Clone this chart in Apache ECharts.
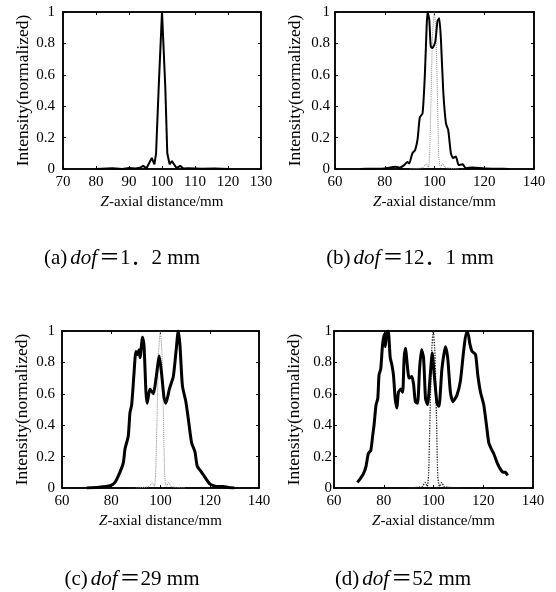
<!DOCTYPE html>
<html>
<head>
<meta charset="utf-8">
<script src="https://cdn.jsdelivr.net/npm/echarts@6/dist/echarts.min.js"></script>
<style>
html,body{margin:0;padding:0;background:#fff;}
#c{width:556px;height:592px;}
</style>
</head>
<body>
<div id="c"></div>
<script>
// ---- data ----
// (a) dof = 1.2 mm
const aX = [80, 85, 88, 90, 92, 93.3, 94.3, 95.3, 96.9, 97.7, 98.2, 99.0, 100.0, 101.0, 101.6, 102.3, 103.0, 103.6, 104.4, 105.5, 106.5, 108, 112, 116, 120];
const aY = [0, 0.004, 0, 0.006, 0.003, 0.008, 0.02, 0.005, 0.07, 0.03, 0.1, 0.52, 1.0, 0.52, 0.1, 0.03, 0.05, 0.05, 0.006, 0.02, 0.003, 0.005, 0.002, 0.003, 0];
// (b) dof = 12.1 mm
const bX = [70, 75, 80, 84.4, 86, 87.8, 89.1, 89.8, 91.1, 92.2, 93.2, 94.1, 95.2, 96.1, 96.8, 97.2, 97.9, 98.5, 99.2, 100.3, 101.2, 101.9, 102.6, 103.5, 104.6, 105.5, 106.6, 107.5, 108.6, 109.7, 111.3, 112.6, 115.3, 120, 125, 130];
const bY = [0, 0.002, 0.004, 0.015, 0.008, 0.025, 0.045, 0.035, 0.1, 0.12, 0.19, 0.33, 0.355, 0.59, 0.89, 1.0, 0.95, 0.78, 0.77, 0.81, 0.94, 0.96, 0.82, 0.50, 0.29, 0.25, 0.10, 0.07, 0.08, 0.025, 0.03, 0.005, 0.01, 0.003, 0.002, 0];
// (c) dof = 29 mm
const cX = [70, 75, 79.5, 81.5, 83.5, 84.9, 85.6, 86.9, 87.6, 88.3, 89.2, 90.0, 90.6, 91.3, 91.7, 92.7, 93.3, 94.1, 94.6, 95.7, 97.1, 98.2, 99.5, 100.5, 101.4, 102.2, 103.6, 105.2, 106.3, 107.2, 107.9, 108.9, 110.3, 111.3, 112.6, 114.0, 114.9, 116.7, 118.0, 120.1, 122.8, 125.5, 127.5, 130];
const cY = [0, 0.005, 0.015, 0.036, 0.10, 0.16, 0.25, 0.33, 0.48, 0.53, 0.72, 0.87, 0.85, 0.88, 0.83, 0.96, 0.91, 0.61, 0.54, 0.63, 0.60, 0.70, 0.84, 0.72, 0.58, 0.54, 0.63, 0.71, 0.87, 1.0, 0.91, 0.65, 0.55, 0.44, 0.29, 0.23, 0.14, 0.10, 0.07, 0.025, 0.01, 0.01, 0.003, 0];
// (d) dof = 52 mm
const dX = [69.4, 70.5, 71.8, 72.9, 73.8, 74.8, 75.6, 76.1, 76.9, 77.6, 78.1, 78.8, 79.5, 80.2, 80.6, 81.2, 81.8, 82.6, 83.2, 83.9, 84.6, 85.3, 85.9, 86.9, 87.6, 88.2, 88.8, 89.3, 90.2, 91.3, 92.0, 92.7, 93.6, 94.4, 95.2, 96.0, 96.8, 97.6, 98.7, 99.5, 100.3, 101.4, 102.2, 103.4, 104.8, 105.7, 106.8, 107.8, 109.4, 110.8, 112.1, 113.2, 113.8, 114.6, 115.5, 116.9, 117.8, 118.9, 120.2, 121.3, 122.2, 123.2, 124.2, 125.6, 126.9, 128.0, 128.9, 129.8];
const dY = [0.036, 0.058, 0.09, 0.14, 0.22, 0.24, 0.34, 0.40, 0.53, 0.57, 0.72, 0.76, 0.91, 0.98, 0.90, 0.99, 1.0, 0.83, 0.79, 0.72, 0.57, 0.51, 0.61, 0.63, 0.61, 0.83, 0.89, 0.81, 0.70, 0.71, 0.66, 0.55, 0.54, 0.76, 0.88, 0.83, 0.57, 0.53, 0.72, 0.86, 0.72, 0.54, 0.52, 0.76, 0.90, 0.83, 0.61, 0.55, 0.59, 0.68, 0.87, 0.99, 0.99, 0.92, 0.87, 0.85, 0.72, 0.61, 0.53, 0.40, 0.29, 0.25, 0.22, 0.16, 0.12, 0.10, 0.10, 0.08];
// dotted reference (narrow focus) shown in (b)-(d)
const refX = [90, 94, 95.5, 96.6, 97.5, 98.0, 98.6, 99.2, 99.9, 100.6, 101.2, 101.7, 102.4, 103.3, 104.2, 106, 110];
const refY = [0, 0.005, 0.01, 0.035, 0.01, 0.08, 0.45, 0.85, 1.0, 0.85, 0.45, 0.08, 0.01, 0.035, 0.01, 0.005, 0];
// axis ticks
const xTicksA = {min: 70, max: 130, interval: 10};
const xTicksB = {min: 60, max: 140, interval: 20};
const yTicks = {min: 0, max: 1, interval: 0.2};
const captions = [
  ['(a)', 'dof', '＝1．2 mm'],
  ['(b)', 'dof', '＝12．1 mm'],
  ['(c)', 'dof', '＝29 mm'],
  ['(d)', 'dof', '＝52 mm']
];

function pairs(xs, ys) { return xs.map((x, i) => [x, ys[i]]); }

const SERIF = "'Liberation Serif', 'Times New Roman', serif";
const grids = [
  {left: 63, top: 12, width: 198, height: 157},
  {left: 335, top: 12, width: 199, height: 157},
  {left: 62, top: 331, width: 197, height: 157},
  {left: 334, top: 331, width: 199, height: 157}
];
const xScales = [xTicksA, xTicksB, xTicksB, xTicksB];
const yLabelMargins = [8, 5, 7, 2];

const xAxes = [], yAxes = [];
grids.forEach((g, i) => {
  xAxes.push(Object.assign({
    type: 'value', gridIndex: i, position: 'bottom',
    name: '{i|Z}-axial distance/mm', nameLocation: 'middle', nameGap: 26,
    nameTextStyle: {fontFamily: SERIF, fontSize: 15, color: '#000',
      rich: {i: {fontFamily: SERIF, fontSize: 15, fontStyle: 'italic', color: '#000'}}},
    axisLine: {show: true, lineStyle: {color: '#000', width: 1.5}},
    axisTick: {show: true, inside: true, length: 3, lineStyle: {color: '#000'}},
    axisLabel: {fontFamily: SERIF, fontSize: 15, color: '#000', margin: 6},
    splitLine: {show: false}
  }, xScales[i]));
  yAxes.push(Object.assign({
    type: 'value', gridIndex: i, position: 'left',
    name: 'Intensity(normalized)', nameLocation: 'middle', nameGap: 31,
    nameTextStyle: {fontFamily: SERIF, fontSize: 17.5, color: '#000'},
    axisLine: {show: true, lineStyle: {color: '#000', width: 1.5}},
    axisTick: {show: true, inside: true, length: 3, lineStyle: {color: '#000'}},
    axisLabel: {fontFamily: SERIF, fontSize: 15, color: '#000', margin: yLabelMargins[i]},
    splitLine: {show: false}
  }, yTicks));
});
grids.forEach((g, i) => {
  xAxes.push(Object.assign({
    type: 'value', gridIndex: i, position: 'top',
    axisLine: {show: true, onZero: false, lineStyle: {color: '#000', width: 1.5}},
    axisTick: {show: true, inside: true, length: 3, lineStyle: {color: '#000'}},
    axisLabel: {show: false}, splitLine: {show: false}
  }, xScales[i]));
  yAxes.push(Object.assign({
    type: 'value', gridIndex: i, position: 'right',
    axisLine: {show: true, onZero: false, lineStyle: {color: '#000', width: 1.5}},
    axisTick: {show: true, inside: true, length: 3, lineStyle: {color: '#000'}},
    axisLabel: {show: false}, splitLine: {show: false}
  }, yTicks));
});

function solid(i, xs, ys, w, smooth) {
  return {type: 'line', xAxisIndex: i, yAxisIndex: i, data: pairs(xs, ys), symbol: 'none',
    smooth: smooth, lineStyle: {color: '#000', width: w}, z: 3, animation: false};
}
function dotted(i, color, w) {
  return {type: 'line', xAxisIndex: i, yAxisIndex: i, data: pairs(refX, refY), symbol: 'none',
    smooth: 0.2, lineStyle: {color: color, width: w, type: 'dotted'}, z: 2, animation: false};
}

const capPos = [[122, 248], [410, 248], [132, 569], [403, 569]];
const titles = captions.map((c, i) => ({
  text: '{p|' + c[0] + '}{i|' + c[1] + '}{p|' + c[2] + '}',
  left: capPos[i][0], top: capPos[i][1], textAlign: 'center', padding: 0,
  textStyle: {
    fontWeight: 'normal',
    rich: {
      p: {fontFamily: "'Liberation Serif', 'Noto Sans CJK SC', serif", fontSize: 21, fontWeight: 'normal', color: '#000'},
      i: {fontFamily: SERIF, fontSize: 21, fontStyle: 'italic', fontWeight: 'normal', color: '#000', padding: [0, 2, 0, 3]}
    }
  }
}));

const chart = echarts.init(document.getElementById('c'), null, {renderer: 'canvas'});
chart.setOption({
  backgroundColor: '#fff',
  animation: false,
  title: titles,
  grid: grids.map(g => Object.assign({show: true, borderColor: '#000', borderWidth: 1.5, containLabel: false}, g)),
  xAxis: xAxes,
  yAxis: yAxes,
  series: [
    solid(0, aX, aY, 2, false),
    dotted(1, '#888', 1), solid(1, bX, bY, 2, 0.2),
    dotted(2, '#888', 1), solid(2, cX, cY, 3, 0.2),
    dotted(3, '#222', 1.3), solid(3, dX, dY, 3, 0.2)
  ]
});
</script>
</body>
</html>
